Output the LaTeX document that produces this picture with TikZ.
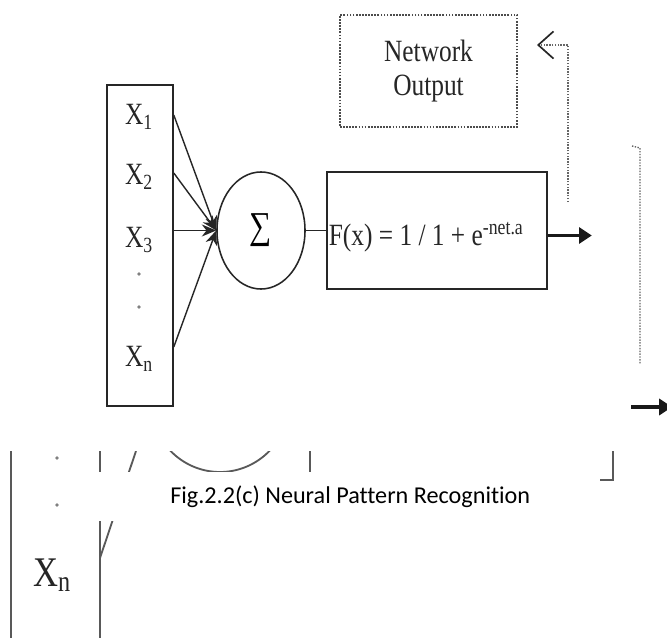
\documentclass[tikz,border=0pt]{standalone}
\usepackage{fontspec}
\setmainfont[FakeStretch=0.82]{Liberation Serif}
\newfontfamily\capfont[Ligatures=CommonOff]{Carlito}
\usepackage{tikz}
\usetikzlibrary{arrows.meta,shapes.geometric,calc}

\begin{document}
\begin{tikzpicture}[x=0.025cm, y=-0.025cm,
        box/.style={draw=black!85, line width=1.1pt, inner sep=0pt},
        lbl/.style={text=black!85, font=\fontsize{22}{24.5}\selectfont, inner sep=1pt},
        dotmark/.style={circle, fill=black!50, inner sep=0pt, minimum size=2.6pt},
        inarrow/.style={draw=black!85, line width=1pt, -{Stealth[length=0.36cm, width=0.3cm]}},
        outarrow/.style={draw=black!90, line width=2.4pt, -{Triangle[length=0.32cm, width=0.4cm]}},
        dotline/.style={draw=black!60, line width=1pt, densely dotted},
        faint/.style={draw=black!65, line width=1.3pt}]

        \useasboundingbox[fill=white] (0,0) rectangle (667,638);

        % Draw Inputs
        \node[box, minimum width=1.65cm, minimum height=8.025cm] (inbox) at (140,245.5) {};
        \node[lbl] (x1) at (139,117) {X\textsubscript{1}};
        \node[lbl] (x2) at (139,177) {X\textsubscript{2}};
        \node[lbl] (x3) at (139,240) {X\textsubscript{3}};
        \node[dotmark] (d1) at (139,274) {};
        \node[dotmark] (d2) at (139,307) {};
        \node[lbl] (xn) at (139,359) {X\textsubscript{n}};

        % Draw Summation
        \node[box, ellipse, minimum width=2.2cm, minimum height=2.925cm] (sum) at (261,230.5) {\fontsize{27}{29}\selectfont ∑};

        % Draw Activation
        \node[box, minimum width=5.5cm, minimum height=2.925cm] (fbox) at (437,230.5) {};
        \node[lbl, anchor=base west] (fx) at ($(fbox.west)+(1,14.5)$) {F(x) = 1 / 1 + e\textsuperscript{-net.a}};

        % Draw Network Output
        \node[lbl, draw=black!70, densely dotted, line width=1.2pt, minimum width=4.425cm, minimum height=2.8cm, align=center] (netout) at (428.5,71) {Network\\Output};

        % Input arrows
        \foreach \y/\n in {115/1,173/2,230.5/3,347/4} {
            \coordinate (p\n) at (inbox.east |- 0,\y);
            \draw[inarrow] (p\n) -- (sum.west);
        }
        \draw[box] (sum.east) -- (fbox.west);

        % Output arrow
        \coordinate (o0) at ($(fbox.east)+(0,5)$);
        \coordinate (o1) at ($(fbox.east)+(44,5)$);
        \draw[outarrow] (o0) -- (o1);

        % Feedback to output
        \coordinate (fb0) at (568,202);
        \coordinate (fb1) at (537,45);
        \draw[dotline, -{Straight Barb[length=0.38cm, width=0.68cm, line width=1.2pt, color=black!85]}] (fb0) |- (fb1);

        % Right rail
        \coordinate (rt0) at (632,146);
        \coordinate (rt1) at (640,364);
        \draw[dotline] (rt0) -- ++(8,2) -- (rt1);
        \coordinate (ra0) at (631,407);
        \coordinate (ra1) at (672,407);
        \draw[outarrow] (ra0) -- (ra1);

        % Lower fragment
        \begin{scope}
            \clip (0,451) rectangle (667,638);
            \draw[faint] (11,451) -- (11,640) (100,451) -- (100,640);
            \draw[faint] (100,558) -- (136,451);
            \draw[faint] (220,400) ellipse [x radius=70, y radius=72];
            \draw[faint] (310,451) -- (310,480);
            \draw[faint] (613,451) -- (613,480) -- (560,480);
        \end{scope}
        \node[dotmark] (d3) at (57,458) {};
        \node[dotmark] (d4) at (57,505) {};
        \node[lbl, font=\fontsize{30}{32}\selectfont] (xn2) at (52,575) {X\textsubscript{n}};

        % Caption
        \node[fill=white, minimum width=12.55cm, minimum height=1.225cm, inner sep=0pt] (capbox) at (349,496.5) {};
        \node[font=\capfont\fontsize{17.2}{20}\selectfont, anchor=west, inner sep=0pt] (cap) at (170,497) {Fig.2.2(c) Neural Pattern Recognition};
    \end{tikzpicture}
\end{document}
